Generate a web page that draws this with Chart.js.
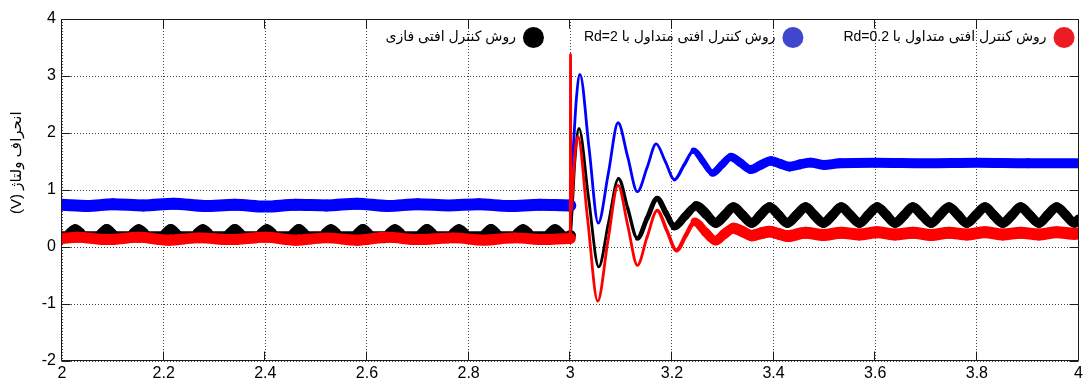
<!DOCTYPE html>
<html lang="fa">
<head>
<meta charset="utf-8">
<title>انحراف ولتاژ</title>
<script src="https://cdn.jsdelivr.net/npm/chart.js@4.4.1/dist/chart.umd.min.js"></script>
<style>
  html, body { margin: 0; padding: 0; background: #fff; }
  #wrap { position: relative; width: 1086px; height: 381px; }
</style>
</head>
<body>
<div id="wrap"><canvas id="chart"></canvas></div>
<script>
// Axis ticks
const xTickValues = [2, 2.2, 2.4, 2.6, 2.8, 3, 3.2, 3.4, 3.6, 3.8, 4];
const xTickLabels = ['2', '2.2', '2.4', '2.6', '2.8', '3', '3.2', '3.4', '3.6', '3.8', '4'];
const yTickValues = [-2, -1, 0, 1, 2, 3, 4];
const yTickLabels = ['-2', '-1', '0', '1', '2', '3', '4'];

const yTitle = 'انحراف ولتاژ (V)';
const seriesNames = [
  'روش کنترل افتی متداول با Rd=0.2',
  'روش کنترل افتی متداول با Rd=2',
  'روش کنترل افتی فازی'
];

// Conventional droop, Rd = 0.2  [time (s), deviation (V)]
const redBefore = [
  [2.000, 0.15], [2.030, 0.17], [2.090, 0.13], [2.150, 0.17], [2.210, 0.12], [2.270, 0.16],
  [2.330, 0.13], [2.400, 0.17], [2.460, 0.12], [2.520, 0.16], [2.580, 0.12], [2.640, 0.17],
  [2.700, 0.13], [2.770, 0.16], [2.830, 0.12], [2.890, 0.16], [2.950, 0.13], [2.999, 0.15]
];
const redStep = [
  [3.0000, 0.15], [3.0005, 3.38], [3.0012, 0.60], [3.006, 1.20], [3.010, 1.70], [3.015, 1.94],
  [3.034, 0.50], [3.054, -0.95], [3.074, 0.10], [3.094, 1.08], [3.113, 0.38], [3.132, -0.32],
  [3.151, 0.17], [3.171, 0.64], [3.190, 0.29], [3.209, -0.06], [3.227, 0.20], [3.245, 0.44]
];
const redAfter = [
  [3.266, 0.26], [3.286, 0.11], [3.302, 0.22], [3.321, 0.33], [3.339, 0.27], [3.357, 0.20],
  [3.375, 0.24], [3.392, 0.27], [3.410, 0.23], [3.427, 0.19], [3.463, 0.25], [3.498, 0.21],
  [3.533, 0.25], [3.569, 0.22], [3.604, 0.26], [3.639, 0.22], [3.674, 0.25], [3.710, 0.21],
  [3.745, 0.25], [3.780, 0.22], [3.816, 0.26], [3.851, 0.22], [3.886, 0.25], [3.922, 0.22],
  [3.957, 0.26], [3.992, 0.23], [4.000, 0.24]
];

// Conventional droop, Rd = 2
const blueBefore = [
  [2.000, 0.74], [2.050, 0.72], [2.100, 0.75], [2.160, 0.73], [2.220, 0.76], [2.280, 0.72],
  [2.340, 0.74], [2.400, 0.71], [2.460, 0.74], [2.520, 0.73], [2.580, 0.76], [2.640, 0.72],
  [2.700, 0.75], [2.760, 0.73], [2.820, 0.75], [2.880, 0.72], [2.940, 0.74], [2.999, 0.73]
];
const blueStep = [
  [3.0000, 0.73], [3.0008, 1.10], [3.006, 1.75], [3.012, 2.60], [3.019, 3.03], [3.037, 1.73],
  [3.055, 0.42], [3.075, 1.30], [3.094, 2.18], [3.113, 1.58], [3.132, 0.97], [3.151, 1.39],
  [3.169, 1.81], [3.187, 1.50], [3.205, 1.18], [3.224, 1.44], [3.243, 1.69]
];
const blueAfter = [
  [3.261, 1.50], [3.280, 1.30], [3.298, 1.44], [3.316, 1.58], [3.336, 1.47], [3.355, 1.36],
  [3.375, 1.44], [3.395, 1.51], [3.413, 1.46], [3.431, 1.41], [3.452, 1.45], [3.473, 1.48],
  [3.499, 1.44], [3.530, 1.47], [3.600, 1.48], [3.700, 1.47], [3.800, 1.48], [3.900, 1.47],
  [4.000, 1.47]
];

// Fuzzy droop control
const blackBefore = [
  [2.000, 0.17], [2.006, 0.17], [2.016, 0.25], [2.026, 0.31], [2.036, 0.25], [2.046, 0.17],
  [2.068, 0.17], [2.078, 0.25], [2.088, 0.32], [2.098, 0.25], [2.108, 0.17],
  [2.131, 0.17], [2.141, 0.25], [2.151, 0.31], [2.161, 0.25], [2.171, 0.17],
  [2.194, 0.17], [2.204, 0.25], [2.214, 0.32], [2.224, 0.25], [2.234, 0.17],
  [2.257, 0.17], [2.267, 0.25], [2.277, 0.31], [2.287, 0.25], [2.297, 0.17],
  [2.320, 0.17], [2.330, 0.25], [2.340, 0.32], [2.350, 0.25], [2.360, 0.17],
  [2.383, 0.17], [2.393, 0.25], [2.403, 0.31], [2.413, 0.25], [2.423, 0.17],
  [2.446, 0.17], [2.456, 0.25], [2.466, 0.32], [2.476, 0.25], [2.486, 0.17],
  [2.509, 0.17], [2.519, 0.25], [2.529, 0.31], [2.539, 0.25], [2.549, 0.17],
  [2.572, 0.17], [2.582, 0.25], [2.592, 0.32], [2.602, 0.25], [2.612, 0.17],
  [2.635, 0.17], [2.645, 0.25], [2.655, 0.31], [2.665, 0.25], [2.675, 0.17],
  [2.698, 0.17], [2.708, 0.25], [2.718, 0.32], [2.728, 0.25], [2.738, 0.17],
  [2.761, 0.17], [2.771, 0.25], [2.781, 0.31], [2.791, 0.25], [2.801, 0.17],
  [2.824, 0.17], [2.834, 0.25], [2.844, 0.32], [2.854, 0.25], [2.864, 0.17],
  [2.887, 0.17], [2.897, 0.25], [2.907, 0.31], [2.917, 0.25], [2.927, 0.17],
  [2.950, 0.17], [2.960, 0.25], [2.970, 0.32], [2.980, 0.25], [2.990, 0.17]
];
const blackStep = [
  [3.000, 0.20], [3.003, 0.55], [3.009, 1.50], [3.017, 2.08], [3.036, 0.86], [3.056, -0.35],
  [3.075, 0.42], [3.095, 1.20], [3.113, 0.68], [3.132, 0.15], [3.151, 0.50], [3.171, 0.85],
  [3.188, 0.60], [3.205, 0.36], [3.226, 0.54], [3.248, 0.72]
];
const blackAfter = [
  [3.268, 0.57], [3.286, 0.42], [3.304, 0.56], [3.321, 0.70], [3.339, 0.56], [3.357, 0.42],
  [3.374, 0.56], [3.392, 0.70], [3.410, 0.56], [3.427, 0.42], [3.445, 0.56], [3.463, 0.70],
  [3.480, 0.56], [3.498, 0.42], [3.516, 0.56], [3.533, 0.70], [3.551, 0.56], [3.569, 0.42],
  [3.586, 0.56], [3.604, 0.70], [3.622, 0.56], [3.639, 0.42], [3.657, 0.56], [3.674, 0.70],
  [3.692, 0.56], [3.710, 0.42], [3.727, 0.56], [3.745, 0.70], [3.763, 0.56], [3.780, 0.42],
  [3.798, 0.56], [3.816, 0.70], [3.833, 0.56], [3.851, 0.42], [3.869, 0.56], [3.886, 0.70],
  [3.904, 0.56], [3.922, 0.42], [3.939, 0.56], [3.957, 0.70], [3.975, 0.56], [3.992, 0.42],
  [4.000, 0.49]
];

const series = [
  redBefore.concat(redStep, redAfter),
  blueBefore.concat(blueStep, blueAfter),
  blackBefore.concat(blackStep, blackAfter)
];

const lineColors = ['#ff0000', '#0000ff', '#000000'];
const legendColors = ['#ed1c24', '#3f48cc', '#000000'];
// Height (px) of each trace's ripple band: before the step, during the transient, after it
const bandHeights = [[11, 8, 12], [12, 6, 10], [12, 11, 13]];

// The ripple makes each trace a vertical band; a stroke of width h*cos(angle) reproduces it.
function bandWidth(i) {
  return (c) => {
    const dx = c.p1.x - c.p0.x, dy = c.p1.y - c.p0.y;
    const len = Math.hypot(dx, dy) || 1;
    const t = c.chart.scales.x.getValueForPixel((c.p0.x + c.p1.x) / 2);
    const h = bandHeights[i][t < 3 ? 0 : (t < 3.25 ? 1 : 2)];
    return Math.max(2.8, h * Math.abs(dx) / len);
  };
}

const FONT = '"Liberation Sans", "DejaVu Sans", Arial, sans-serif';
Chart.defaults.font.family = FONT;
Chart.defaults.color = '#000';

// Right-to-left embedding so the Persian labels read correctly on the canvas
const rtlText = s => '\u202B' + s + '\u202C';

// Legend sits inside the plot, upper right, laid out right to left
const legendInPlot = {
  id: 'legendInPlot',
  afterLayout(chart) {
    const lg = chart.legend, a = chart.chartArea;
    const pad = lg.options.labels.padding;
    lg.left = a.left;
    lg.right = a.right - 4 + pad;
    lg.width = lg.right - lg.left;
    lg.top = a.top + 8 - pad;
    lg.height = 100;
    lg.bottom = lg.top + lg.height;
  }
};

// Box around the plot with inward tick marks on all four sides
const axesFrame = {
  id: 'axesFrame',
  afterDraw(chart) {
    const { ctx, chartArea: a, scales: { x, y } } = chart;
    const L = Math.round(a.left) - 0.5, R = Math.round(a.right) - 0.5;
    const T = Math.round(a.top) + 0.5, B = Math.round(a.bottom) - 0.5;
    const len = 9;
    ctx.save();
    ctx.lineWidth = 1;
    ctx.strokeStyle = '#1a1a1a';
    ctx.beginPath();
    ctx.rect(L, T, R - L, B - T);
    xTickValues.forEach(v => {
      const px = Math.round(x.getPixelForValue(v)) - 0.5;
      ctx.moveTo(px, B); ctx.lineTo(px, B - len);
      ctx.moveTo(px, T); ctx.lineTo(px, T + len);
    });
    yTickValues.forEach(v => {
      const py = Math.round(y.getPixelForValue(v)) + 0.5;
      ctx.moveTo(L, py); ctx.lineTo(L + len, py);
      ctx.moveTo(R, py); ctx.lineTo(R - len, py);
    });
    ctx.stroke();
    ctx.restore();
  }
};

// Persian y-axis title, rotated
const yAxisTitle = {
  id: 'yAxisTitle',
  afterDraw(chart) {
    const { ctx, chartArea: a } = chart;
    const t = chart.options.scales.y.title;
    ctx.save();
    ctx.translate(17, a.top + (a.bottom - a.top) * 0.42);
    ctx.rotate(-Math.PI / 2);
    ctx.textAlign = 'center';
    ctx.textBaseline = 'middle';
    ctx.font = `${t.font.size}px ${FONT}`;
    ctx.fillStyle = t.color;
    ctx.fillText(rtlText(t.text), 0, 0);
    ctx.restore();
  }
};

new Chart(document.getElementById('chart'), {
  type: 'line',
  data: {
    datasets: series.map((pts, i) => ({
      label: seriesNames[i],
      data: pts.map(([x, y]) => ({ x, y })),
      borderColor: lineColors[i],
      backgroundColor: legendColors[i],
      borderWidth: 10,
      pointRadius: 0,
      cubicInterpolationMode: 'monotone',
      borderCapStyle: 'round',
      borderJoinStyle: 'round',
      clip: 0,
      segment: { borderWidth: bandWidth(i) }
    }))
  },
  options: {
    responsive: true,
    maintainAspectRatio: false,
    animation: false,
    events: [],
    layout: { padding: { top: 19, right: 4, left: 0, bottom: 0 } },
    scales: {
      x: {
        type: 'linear',
        min: 2, max: 4,
        afterBuildTicks: s => { s.ticks = xTickValues.map(v => ({ value: v })); },
        afterFit: s => { s.height = 20; },
        ticks: {
          callback: (v, i) => xTickLabels[i],
          font: { size: 16 }, color: '#000', padding: 3, maxRotation: 0, autoSkip: false
        },
        grid: { color: '#444', lineWidth: 1, drawTicks: false },
        border: { display: false, dash: [1, 2] }
      },
      y: {
        min: -2, max: 4,
        afterBuildTicks: s => { s.ticks = yTickValues.map(v => ({ value: v })); },
        afterFit: s => { s.width = 62; },
        ticks: {
          callback: (v, i) => yTickLabels[i],
          font: { size: 16 }, color: '#000', padding: 6
        },
        grid: { color: '#444', lineWidth: 1, drawTicks: false },
        border: { display: false, dash: [1, 2] },
        title: { display: false, text: yTitle, color: '#000', font: { size: 15 } }
      }
    },
    plugins: {
      tooltip: { enabled: false },
      legend: {
        position: 'top',
        align: 'start',
        rtl: true,
        maxHeight: 0.0001,
        labels: {
          boxWidth: 21,
          boxHeight: 21,
          padding: 40,
          useBorderRadius: true,
          borderRadius: 10.5,
          color: '#000',
          font: { size: 14 },
          generateLabels: chart => chart.data.datasets.map((ds, i) => ({
            text: rtlText(ds.label),
            fillStyle: legendColors[i],
            strokeStyle: legendColors[i],
            lineWidth: 0,
            borderRadius: 10.5,
            fontColor: '#000',
            hidden: false,
            datasetIndex: i
          }))
        }
      }
    }
  },
  plugins: [legendInPlot, axesFrame, yAxisTitle]
});
</script>
</body>
</html>
